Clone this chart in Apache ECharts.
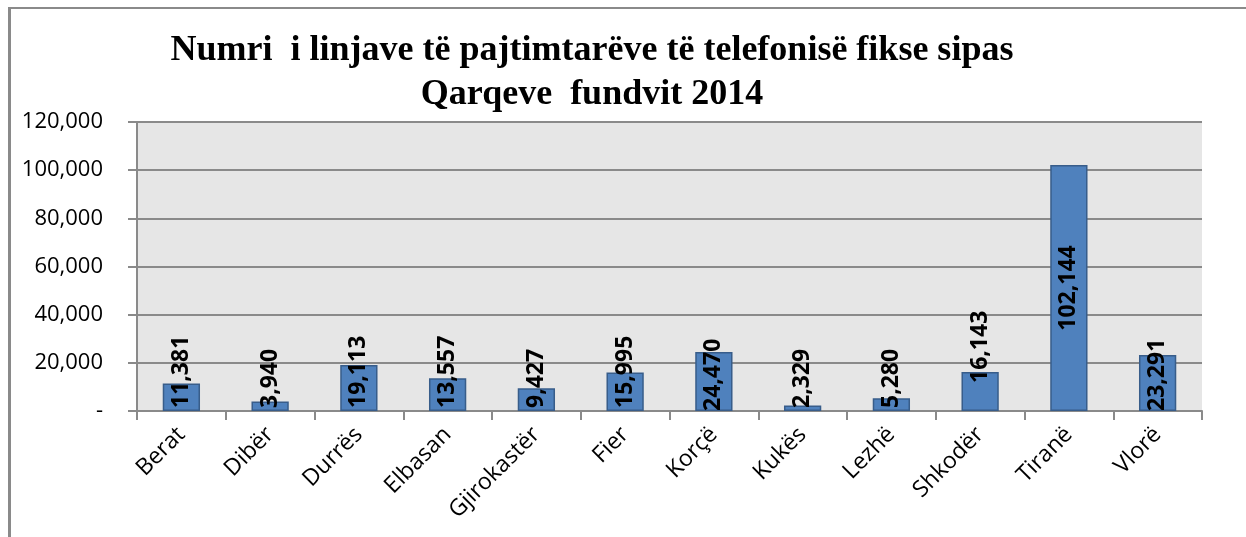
<!DOCTYPE html>
<html>
<head>
<meta charset="utf-8">
<script src="https://cdn.jsdelivr.net/npm/echarts@6/dist/echarts.min.js"></script>
<style>
  html, body { margin: 0; padding: 0; background: #fff; }
  #frame { position: absolute; left: 8px; top: 7px; width: 1238px; height: 530px;
           border-top: 2px solid #8a8a8a; border-left: 3px solid #8a8a8a; box-sizing: border-box; }
  #chart { position: absolute; left: 0; top: 0; width: 1246px; height: 537px; }
</style>
</head>
<body>
<div id="frame"></div>
<div id="chart"></div>
<script>
// Qarqet (categories)
const qarqet = ['Berat', 'Dibër', 'Durrës', 'Elbasan', 'Gjirokastër', 'Fier',
                'Korçë', 'Kukës', 'Lezhë', 'Shkodër', 'Tiranë', 'Vlorë'];
// linjat e pajtimtarëve, fundi 2014
const linjat = [11381, 3940, 19113, 13557, 9427, 15995, 24470, 2329, 5280, 16143, 102144, 23291];
// y axis
const yMin = 0, yMax = 120000, yStep = 20000;

const fmt = v => v === 0 ? '-' : v.toLocaleString('en-US');
const sans = '"Open Sans", Lato, sans-serif';

// label tweaks, Excel had these moved by hand
const labelTweak = {
    'Tiranë': {position: 'inside', align: 'center'},
    'Shkodër': {distance: 28},
    'Korçë': {distance: 0},
    'Vlorë': {distance: 0}
};

const chart = echarts.init(document.getElementById('chart'));
chart.setOption({
    backgroundColor: 'transparent',
    animation: false,
    title: {
        text: 'Numri  i linjave të pajtimtarëve të telefonisë fikse sipas\nQarqeve  fundvit 2014',
        left: 587, top: 24, textAlign: 'center',
        textStyle: {fontFamily: '"Liberation Serif", "DejaVu Serif", serif', fontWeight: 'bold',
                    fontSize: 36, lineHeight: 44, color: '#000'}
    },
    grid: {left: 137, right: 44, top: 122, bottom: 126, show: true,
           backgroundColor: '#e6e6e6', borderWidth: 0},
    xAxis: {
        type: 'category', data: qarqet,
        axisLine: {lineStyle: {color: '#8a8a8a', width: 2}},
        axisTick: {show: true, length: 9, interval: 0, lineStyle: {color: '#8a8a8a', width: 2}},
        axisLabel: {interval: 0, rotate: 45, margin: 20, fontFamily: sans, fontSize: 23, color: '#000'}
    },
    yAxis: {
        type: 'value', min: yMin, max: yMax, interval: yStep,
        axisLine: {show: true, lineStyle: {color: '#8a8a8a', width: 2}},
        axisTick: {show: true, length: 9, lineStyle: {color: '#8a8a8a', width: 2}},
        splitLine: {lineStyle: {color: '#8a8a8a', width: 2}},
        axisLabel: {formatter: fmt, margin: 34, fontFamily: sans, fontSize: 22, color: '#000'}
    },
    series: [{
        type: 'bar',
        barWidth: '42%',
        data: linjat.map((v, i) => {
            const t = labelTweak[qarqet[i]];
            return t ? {value: v, label: t} : v;
        }),
        itemStyle: {color: '#4f81bd', borderColor: '#385d8a', borderWidth: 1.5},
        label: {
            show: true, position: 'insideBottom', rotate: 90, distance: 3,
            align: 'left', verticalAlign: 'middle',
            formatter: p => fmt(p.value),
            fontFamily: sans, fontWeight: 'bold', fontSize: 23, color: '#000'
        }
    }]
});
</script>
</body>
</html>
